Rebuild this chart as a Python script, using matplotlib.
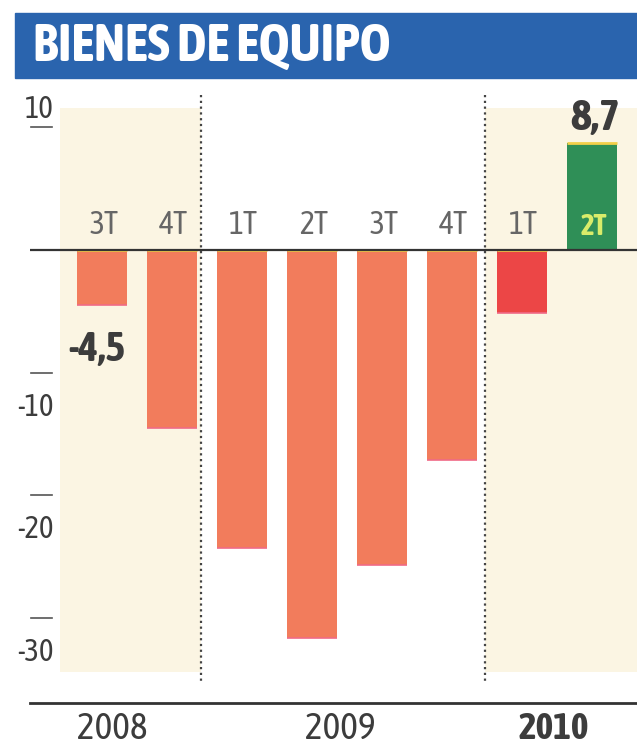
"""Bienes de equipo: quarterly change, 2008-2010 (newspaper-style bar chart)."""
import matplotlib

matplotlib.use("Agg")
import matplotlib.pyplot as plt
import numpy as np
from matplotlib import font_manager
from matplotlib.patches import Rectangle

# --- data ---
QUARTERS = ["3T", "4T", "1T", "2T", "3T", "4T", "1T", "2T"]
YEARS = ["2008", "2009", "2010"]
VALUES = [-4.5, -14.5, -24.3, -31.6, -25.7, -17.1, -5.1, 8.7]
YTICKS = [10, -10, -20, -30]
TITLE = "BIENES DE EQUIPO"

SALMON = "#f27c5c"
RED = "#ec4646"
GREEN = "#2f8f57"
CREAM = "#fbf5e3"
BLUE = "#2a64ae"
TXT = "#3c3c3c"


def _wt(w):
    if isinstance(w, (int, float)):
        return w
    return 700 if "bold" in str(w).lower() else 400


# a condensed face looks closest to the print original; prefer one with a bold cut
weights = {}
for f in font_manager.fontManager.ttflist:
    if "Narrow" in f.name or "Condensed" in f.name:
        weights.setdefault(f.name, set()).add(_wt(f.weight))
with_bold = sorted(n for n, w in weights.items() if max(w) >= 600)
if with_bold:
    FAM = [with_bold[0], "DejaVu Sans"]
    k = 1.0
elif weights:
    FAM = [sorted(weights)[0], "DejaVu Sans"]
    k = 1.0
else:
    FAM = ["Liberation Sans", "DejaVu Sans"]
    k = 0.82

W, H = 637, 751
fig = plt.figure(figsize=(W / 100, H / 100), dpi=100)
fig.patch.set_facecolor("white")

# title band
fig.patches.append(Rectangle((15 / W, 1 - 78 / H), 1 - 15 / W, 65 / H,
                             transform=fig.transFigure, color=BLUE, zorder=0))
fig.text(33 / W, 1 - 46 / H, TITLE, color="white", fontsize=38 * k, fontweight="bold",
         family=FAM, va="center", ha="left")

ax = fig.add_axes([30 / W, 48 / H, 607 / W, 613 / H])
ax.set_xlim(-1.03, 7.64)
ax.set_ylim(-36.92, 13.04)
ax.set_facecolor("none")
for side in ("top", "right", "left"):
    ax.spines[side].set_visible(False)
ax.spines["bottom"].set_color("#333333")
ax.spines["bottom"].set_linewidth(2)
ax.set_xticks([])
ax.set_yticks([])

x = np.arange(len(VALUES))
sep = [1.41, 5.47]

# cream shading behind 2008 and 2010
ax.axvspan(-0.6, sep[0], ymin=0.05, ymax=0.97, color=CREAM, zorder=0, lw=0)
ax.axvspan(sep[1], 7.64, ymin=0.05, ymax=0.97, color=CREAM, zorder=0, lw=0)

colors = [SALMON] * 6 + [RED, GREEN]
ax.bar(x, VALUES, width=0.71, color=colors, zorder=2, lw=0)
# thin yellow strip on the zero end of negative bars / top of the positive one
tops = [v if v > 0 else 0 for v in VALUES]
ax.hlines(tops, x - 0.355, x + 0.355, color="#f3cf4a", lw=2, zorder=3)
ends = [v for v in VALUES if v < 0]
ax.hlines(ends, x[:len(ends)] - 0.355, x[:len(ends)] + 0.355, color="#f06a86", lw=1.2, zorder=3)

ax.axhline(0, color="#333333", lw=1.6, zorder=4)
for s in sep:
    ax.plot([s, s], [12.6, -35.3], color="#444444", lw=1.6, ls=(0, (1, 1.6)), zorder=4)

# y ticks: short dashes with labels
for t in YTICKS:
    ax.plot([-1.02, -0.71], [t, t], color="#555555", lw=1.2, clip_on=False)
    off = 2 if t > 0 else -19
    ax.annotate(str(t), (-0.69, t), xytext=(0, off), textcoords="offset pixels",
                ha="right", va="bottom" if t > 0 else "top", fontsize=22 * k,
                color=TXT, family=FAM)

# quarter labels above the zero line
for i, q in enumerate(QUARTERS):
    green = VALUES[i] > 0
    ax.text(x[i] + 0.02, 0.7, q, ha="center", va="bottom",
            fontsize=(23 if not green else 21) * k,
            color="#d9ec6a" if green else "#666666", family=FAM,
            fontweight="bold" if green else "normal", zorder=5)

# value callouts
ax.text(x[0] - 0.07, -8.15, "-4,5", ha="center", va="center", fontsize=30 * k,
        fontweight="bold", color=TXT, family=FAM)
ax.text(x[7] + 0.04, 10.75, "8,7", ha="center", va="center", fontsize=32 * k,
        fontweight="bold", color=TXT, family=FAM)

# year labels below the baseline
year_x = [0.15, 3.4, 6.45]
for yx, yr in zip(year_x, YEARS):
    ax.text(yx, -39.0, yr, ha="center", va="center", fontsize=27 * k, color=TXT,
            family=FAM, fontweight="bold" if yr == "2010" else "normal", clip_on=False)

fig.savefig("out.png", dpi=100)
